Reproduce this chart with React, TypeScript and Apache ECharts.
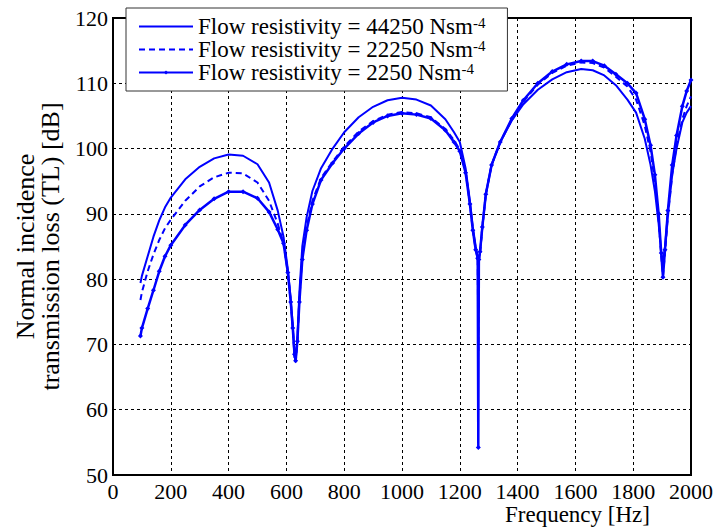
import React, { useEffect, useRef } from "react";
import * as echarts from "echarts";

const freq = [95, 100, 120, 140, 160, 180, 200, 250, 300, 350, 400, 450, 500, 540, 570, 590, 605, 615, 622, 628, 632, 638, 645, 655, 670, 690, 720, 760, 800, 850, 900, 950, 1000, 1050, 1100, 1150, 1180, 1200, 1220, 1235, 1245, 1255, 1262, 1264, 1266, 1270, 1278, 1290, 1310, 1340, 1380, 1420, 1470, 1520, 1570, 1620, 1660, 1700, 1740, 1780, 1810, 1840, 1860, 1875, 1888, 1897, 1903, 1910, 1920, 1935, 1950, 1970, 1985, 2000];

const tl44250 = [79.4, 80.5, 83.5, 86.5, 89, 91, 92.5, 95.3, 97.2, 98.5, 99.1, 98.9, 97.6, 94.8, 90.5, 86.5, 81.5, 77, 73, 68.5, 67.5, 71, 78, 85, 89.5, 93.5, 97, 100, 102.5, 104.8, 106.4, 107.4, 107.8, 107.5, 106.6, 104.5, 102.5, 101, 97, 92, 88, 85, 83.5, 82.8, 83, 84, 88, 93, 97.5, 101, 104.3, 106.8, 109, 110.6, 111.7, 112.2, 112, 111.2, 109.7, 107.5, 105.5, 101.5, 97.5, 93.5, 88.5, 84, 82.5, 85, 90, 96, 100, 104, 105.5, 106.5];

const tl22250 = [76.8, 78, 81.2, 83.8, 86, 87.8, 89.1, 92, 94.2, 95.6, 96.3, 96.2, 94.8, 92, 88.5, 85.5, 81, 76.5, 72.5, 68, 67.3, 70.5, 77, 83.5, 88, 92, 95.5, 98, 100.3, 102.6, 104.2, 105.2, 105.6, 105.4, 104.8, 103, 101.3, 99.8, 96.5, 91.5, 87.5, 84.5, 83.2, 69, 83, 84, 88, 93, 97.5, 101, 104.5, 107.2, 109.8, 111.6, 112.7, 113.2, 113.1, 112.4, 111, 109.5, 107.5, 103.5, 99.5, 95, 89, 83.5, 80.5, 84, 89.5, 96, 100.5, 104.5, 106.5, 108];

const tl2250 = [71.3, 72.5, 75.5, 78.3, 81.2, 83.5, 85.2, 88.3, 90.6, 92.3, 93.4, 93.4, 92.4, 90.3, 87.6, 85.5, 81, 76.5, 72.5, 68.5, 67.5, 70.5, 76.5, 83, 87.5, 91.5, 95.2, 97.8, 100, 102.3, 104, 105, 105.4, 105.2, 104.6, 102.8, 101, 99.6, 96.3, 91.5, 87.5, 84.5, 83.2, 54.2, 83, 84.2, 88, 93, 97.5, 101, 104.6, 107.4, 110, 111.8, 112.9, 113.4, 113.4, 112.7, 111.4, 110, 108.5, 104.5, 100.5, 96, 90, 84, 80.3, 84.5, 90.5, 97.5, 102, 106.5, 108.8, 110.5];

const seriesNames = ["Flow resistivity = 44250 Nsm", "Flow resistivity = 22250 Nsm", "Flow resistivity = 2250 Nsm"];
const xTicks = { min: 0, max: 2000, interval: 200 };
const yTicks = { min: 50, max: 120, interval: 10 };

const FONT = "Liberation Serif";
const BLUE = "#0000ff";

function pairs(ys: number[]) {
  return freq.map((f, i) => [f, ys[i]]);
}

export default function App() {
  const ref = useRef<HTMLDivElement>(null);
  useEffect(() => {
    if (!ref.current) return;
    const chart = echarts.init(ref.current, undefined, { renderer: "svg" });
    chart.setOption({
      animation: false,
      backgroundColor: "#fff",
      grid: { left: 113, right: 22, top: 18, bottom: 53, show: true, borderColor: "#000", borderWidth: 2, backgroundColor: "transparent" },
      xAxis: {
        type: "value",
        min: xTicks.min,
        max: xTicks.max,
        interval: xTicks.interval,
        axisLine: { show: true, lineStyle: { color: "#000", width: 2 } },
        axisTick: { show: false },
        axisLabel: { color: "#000", fontFamily: FONT, fontSize: 22, margin: 5, lineHeight: 22, formatter: (v: number) => String(v) },
        splitLine: { show: true, lineStyle: { color: "#000", type: [3, 3], width: 1 } },
      },
      yAxis: {
        type: "value",
        min: yTicks.min,
        max: yTicks.max,
        interval: yTicks.interval,
        name: "Normal incidence\ntransmission loss (TL) [dB]",
        nameLocation: "middle",
        nameRotate: 90,
        nameGap: 50,
        nameTextStyle: { color: "#000", fontFamily: FONT, fontSize: 26, lineHeight: 25 },
        axisLine: { show: true, lineStyle: { color: "#000", width: 2 } },
        axisTick: { show: false },
        axisLabel: { color: "#000", fontFamily: FONT, fontSize: 22, margin: 5, formatter: (v: number) => String(v) },
        splitLine: { show: true, lineStyle: { color: "#000", type: [3, 3], width: 1 } },
      },
      legend: {
        orient: "vertical",
        left: 126,
        top: 8,
        padding: [7, 22, 7, 12],
        itemGap: 0,
        itemWidth: 54,
        itemHeight: 5,
        backgroundColor: "#fff",
        borderColor: "#333",
        borderWidth: 1,
        data: [
          { name: seriesNames[0], itemStyle: { opacity: 0 } },
          { name: seriesNames[1], itemStyle: { opacity: 0 } },
          { name: seriesNames[2] },
        ],
        formatter: (name: string) => `{t|${name}}{s|-4}`,
        textStyle: {
          color: "#000",
          fontFamily: FONT,
          fontSize: 23,
          rich: {
            t: { fontFamily: FONT, fontSize: 23, color: "#000", lineHeight: 23 },
            s: { fontFamily: FONT, fontSize: 15, color: "#000", verticalAlign: "top", lineHeight: 23 },
          },
        },
      },
      graphic: [
        {
          type: "text",
          left: 505,
          top: 503,
          style: { text: "Frequency [Hz]", fontFamily: FONT, fontSize: 23, lineHeight: 22, fill: "#000" },
        },
      ],
      series: [
        {
          name: seriesNames[0],
          type: "line",
          data: pairs(tl44250),
          symbol: "none",
          lineStyle: { color: BLUE, width: 2 },
          itemStyle: { color: BLUE },
        },
        {
          name: seriesNames[1],
          type: "line",
          data: pairs(tl22250),
          symbol: "none",
          lineStyle: { color: BLUE, width: 2, type: [6, 4] },
          itemStyle: { color: BLUE },
        },
        {
          name: seriesNames[2],
          type: "line",
          data: pairs(tl2250),
          symbol: "diamond",
          symbolSize: 5,
          showSymbol: true,
          lineStyle: { color: BLUE, width: 2.5 },
          itemStyle: { color: BLUE },
        },
      ],
    });
    return () => chart.dispose();
  }, []);
  return <div ref={ref} style={{ position: "fixed", left: 0, top: 0, width: 716, height: 528 }} />;
}
